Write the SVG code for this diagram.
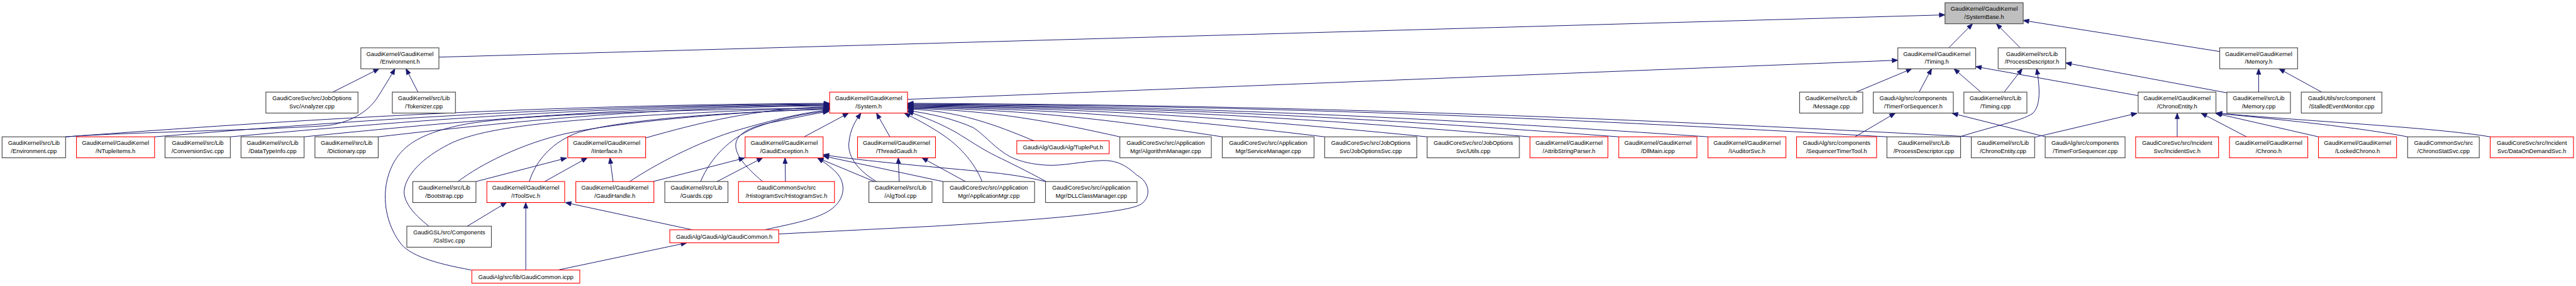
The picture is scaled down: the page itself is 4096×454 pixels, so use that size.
<svg xmlns="http://www.w3.org/2000/svg" width="4096" height="454" viewBox="0 0 4096 454">
<style>
.n rect{fill:#fff;stroke:#404040;stroke-width:1.1}
.n.red rect{stroke:#ff0000}
.n.root rect{fill:#bfbfbf}
text{font-family:"Liberation Sans",Arial,Helvetica,sans-serif;font-size:9.4px;text-anchor:middle;fill:#000}
.e path{fill:none;stroke:#191970;stroke-width:1;marker-end:url(#ah)}
</style>
<defs>
<marker id="ah" markerUnits="userSpaceOnUse" markerWidth="10" markerHeight="8" refX="9" refY="3.5" orient="auto" overflow="visible">
<path d="M0,0 L9,3.5 L0,7 Z" fill="#191970" stroke="#191970" stroke-width="0.8"/>
</marker>
</defs>
<rect x="0" y="0" width="4096" height="454" fill="#fff"/>
<g id="edges" class="e">
<path d="M697.9,90.7 L3092.7,23.6"/>
<path d="M3098.7,75.9 L3136.5,37.7"/>
<path d="M3212.2,75.9 L3174.3,37.7"/>
<path d="M3529.5,81.8 L3217,32.4"/>
<path d="M529.2,146.2 L602.9,109.1"/>
<path d="M664.6,146.2 L645.6,109.1"/>
<path d="M104.3,217.2 C200,210 400,207 515.9,199.7 C555,196 585,178 600,155 C612,136 622,120 627.9,109.1"/>
<path d="M3149.7,146.2 L3106.9,109.1"/>
<path d="M3186.8,146.2 L3215.5,109.1"/>
<path d="M3399.8,151.8 L3141.5,105.7"/>
<path d="M3541.3,147.4 L3284.6,99.9"/>
<path d="M3591.4,146.2 L3591.4,109.1"/>
<path d="M3691.6,146.2 L3623.7,109.1"/>
<path d="M2951.3,146.2 L3040.1,109.1"/>
<path d="M3051.6,146.2 L3071.4,109.1"/>
<path d="M1443,157.7 L3017.7,95.6"/>
<path d="M3116,217.2 C3170,200 3215,192 3232,180 C3245,168 3244,140 3238.4,109.1"/>
<path d="M2949.5,217.2 L3013.6,179.6"/>
<path d="M3252.6,217.2 L3104,179.8"/>
<path d="M3235.2,218 L3398,179.8"/>
<path d="M3461.9,217.2 L3461.9,179.6"/>
<path d="M3572.2,217.2 L3500,179.6"/>
<path d="M3686.5,217.2 L3523,180"/>
<path d="M3828.3,217.2 C3760,204 3650,192 3524,179.8"/>
<path d="M3959.6,217.2 C3870,202 3660,192 3524,179.4"/>
<path d="M1643.8,223.5 C1583.6,198.3 1523.3,175.5 1443,173"/>
<path d="M1780.6,217.2 C1679.3,194.6 1578,174.3 1443,172"/>
<path d="M1943.5,217.2 C1793.4,194.1 1643.2,173.3 1443,171"/>
<path d="M2106.3,217.2 C1907.3,193.6 1708.3,172.4 1443,170"/>
<path d="M2269.2,217.2 C2021.3,193.1 1773.5,171.4 1443,169"/>
<path d="M2432.8,217.2 C2135.9,192.6 1838.9,170.5 1443,168"/>
<path d="M2573.9,217.2 C2234.6,192.1 1895.4,169.5 1443,167"/>
<path d="M2715.8,217.2 C2334,191.6 1952.1,168.6 1443,166"/>
<path d="M3000.3,217.2 C2533.1,191.1 2065.9,167.6 1443,165"/>
<path d="M3134.5,217.2 C2627,190.6 2119.6,166.7 1443,164"/>
<path d="M104.3,217.2 C468.8,190.6 833.2,166.7 1319.2,164"/>
<path d="M245.8,217.2 C567.8,191.1 889.8,167.6 1319.2,165"/>
<path d="M366.3,217.2 C652.2,191.6 938,168.6 1319.2,166"/>
<path d="M483.5,217.2 C734.2,192.1 985,169.5 1319.2,167"/>
<path d="M601.4,217.2 C816.7,192.6 1032.1,170.5 1319.2,168"/>
<path d="M1026.6,218.9 C1114.4,194.2 1202.2,172 1319.2,169.5"/>
<path d="M728.2,288.2 C765,260 830,228 900,212 C980,195 1150,178 1319.2,172.5"/>
<path d="M841.6,288.2 C852,255 878,225 920,210 C990,190 1150,178 1319.2,173.5"/>
<path d="M1001.2,288.2 C1040,262 1110,225 1175,206 C1230,190 1280,178 1319.2,174.5"/>
<path d="M1114,288.2 C1130,250 1160,220 1200,203 C1240,188 1280,180 1318,176"/>
<path d="M1212.7,288.2 C1185,265 1168,245 1170,228 C1172,212 1195,200 1229,194 C1265,187 1295,180 1318,177"/>
<path d="M682,359.1 C655,338 640,318 643,300 C648,272 680,245 720,226 C780,200 900,185 1319.2,170.5"/>
<path d="M749.5,428.6 C690,418 650,405 636,385 C610,350 605,300 624,262 C640,230 670,210 746,196 C850,180 1100,174 1319.2,171.5"/>
<path d="M1278.7,217.2 L1349.3,179.6"/>
<path d="M1415,217.2 L1393.7,179.6"/>
<path d="M1393.7,288.2 C1360,268 1347,245 1350,225 C1352,205 1360,192 1369,179.6"/>
<path d="M1561.5,288.2 C1555,270 1535,238 1499,214 C1475,198 1455,188 1438,179.6"/>
<path d="M1663.4,288.2 C1630,270 1605,258 1584.6,248.1 C1560,236 1540,222 1520,210 C1495,196 1470,186 1443,177"/>
<path d="M1238.2,371.4 L1485.8,359 C1600,352 1790,340 1814,324.3 C1830,314 1830,290 1807.6,278 C1790,262 1775,254 1751.8,254.9 C1720,256 1690,264 1662.7,262.1 C1630,260 1610,252 1597,243.2 C1575,228 1565,214 1547.7,202.7 C1520,190 1480,180 1443,175.5"/>
<path d="M756.8,288.2 L901,250.8"/>
<path d="M866,288.2 L933.8,250.5"/>
<path d="M974.8,288.2 L969.9,250.5"/>
<path d="M1038.4,288.2 L1184,250.8"/>
<path d="M1140.1,288.2 L1212.7,250.5"/>
<path d="M1248.9,288.2 L1248.3,250.5"/>
<path d="M1390.4,288.2 L1300,250.6"/>
<path d="M1429.8,288.2 L1428.3,250.5"/>
<path d="M1499.4,288.2 L1308.9,247.6"/>
<path d="M1662.7,288.2 C1620,278 1590,275 1547.7,271 C1450,262 1360,254 1309,245.5"/>
<path d="M1535.2,288.2 L1466,250.5"/>
<path d="M742.9,359.1 L805.5,321.4"/>
<path d="M1101,364.8 L899,321.5"/>
<path d="M1216,364.8 C1260,355 1300,348 1322,332 C1345,315 1345,290 1330,274 C1320,264 1310,257 1300,251"/>
<path d="M887.3,428.6 L1092,385.5"/>
<path d="M836,428.6 L836,321.4"/>
</g>
<g id="systembase" class="n root"><rect x="3092.7" y="4.4" width="124.3" height="33.3"/><text x="3154.9" y="17.3">GaudiKernel/GaudiKernel</text><text x="3154.9" y="29.8">/SystemBase.h</text></g>
<g id="environment_h" class="n"><rect x="573.8" y="75.9" width="124.1" height="33.3"/><text x="635.9" y="88.8">GaudiKernel/GaudiKernel</text><text x="635.9" y="101.3">/Environment.h</text></g>
<g id="timing_h" class="n"><rect x="3017.7" y="75.9" width="123.8" height="33.3"/><text x="3079.6" y="88.8">GaudiKernel/GaudiKernel</text><text x="3079.6" y="101.3">/Timing.h</text></g>
<g id="processdescriptor_h" class="n"><rect x="3177.2" y="75.9" width="107.4" height="33.3"/><text x="3230.9" y="88.8">GaudiKernel/src/Lib</text><text x="3230.9" y="101.3">/ProcessDescriptor.h</text></g>
<g id="memory_h" class="n"><rect x="3529.5" y="75.9" width="123.8" height="33.3"/><text x="3591.4" y="88.8">GaudiKernel/GaudiKernel</text><text x="3591.4" y="101.3">/Memory.h</text></g>
<g id="analyzer_cpp" class="n"><rect x="422.8" y="146.2" width="146.4" height="33.3"/><text x="496" y="159.1">GaudiCoreSvc/src/JobOptions</text><text x="496" y="171.6">Svc/Analyzer.cpp</text></g>
<g id="tokenizer_cpp" class="n"><rect x="623.8" y="146.2" width="100.4" height="33.3"/><text x="674" y="159.1">GaudiKernel/src/Lib</text><text x="674" y="171.6">/Tokenizer.cpp</text></g>
<g id="system_h" class="n red"><rect x="1319.2" y="146.2" width="123.8" height="33.3"/><text x="1381.1" y="159.1">GaudiKernel/GaudiKernel</text><text x="1381.1" y="171.6">/System.h</text></g>
<g id="message_cpp" class="n"><rect x="2861.5" y="146.2" width="100.4" height="33.3"/><text x="2911.7" y="159.1">GaudiKernel/src/Lib</text><text x="2911.7" y="171.6">/Message.cpp</text></g>
<g id="timerforsequencer_h" class="n"><rect x="2978.6" y="146.2" width="127.3" height="33.3"/><text x="3042.3" y="159.1">GaudiAlg/src/components</text><text x="3042.3" y="171.6">/TimerForSequencer.h</text></g>
<g id="timing_cpp" class="n"><rect x="3122.7" y="146.2" width="100.2" height="33.3"/><text x="3172.8" y="159.1">GaudiKernel/src/Lib</text><text x="3172.8" y="171.6">/Timing.cpp</text></g>
<g id="chronoentity_h" class="n"><rect x="3399.8" y="146.2" width="123.7" height="33.3"/><text x="3461.7" y="159.1">GaudiKernel/GaudiKernel</text><text x="3461.7" y="171.6">/ChronoEntity.h</text></g>
<g id="memory_cpp" class="n"><rect x="3540.9" y="146.2" width="101" height="33.3"/><text x="3591.4" y="159.1">GaudiKernel/src/Lib</text><text x="3591.4" y="171.6">/Memory.cpp</text></g>
<g id="stalledeventmonitor_cpp" class="n"><rect x="3659.2" y="146.2" width="128.1" height="33.3"/><text x="3723.3" y="159.1">GaudiUtils/src/component</text><text x="3723.3" y="171.6">/StalledEventMonitor.cpp</text></g>
<g id="environment_cpp" class="n"><rect x="3.3" y="217.2" width="101" height="33.3"/><text x="53.8" y="230.1">GaudiKernel/src/Lib</text><text x="53.8" y="242.6">/Environment.cpp</text></g>
<g id="ntupleitems_h" class="n red"><rect x="121.6" y="217.2" width="124.2" height="33.3"/><text x="183.7" y="230.1">GaudiKernel/GaudiKernel</text><text x="183.7" y="242.6">/NTupleItems.h</text></g>
<g id="conversionsvc_cpp" class="n"><rect x="262.4" y="217.2" width="103.9" height="33.3"/><text x="314.4" y="230.1">GaudiKernel/src/Lib</text><text x="314.4" y="242.6">/ConversionSvc.cpp</text></g>
<g id="datatypeinfo_cpp" class="n"><rect x="383.2" y="217.2" width="100.3" height="33.3"/><text x="433.4" y="230.1">GaudiKernel/src/Lib</text><text x="433.4" y="242.6">/DataTypeInfo.cpp</text></g>
<g id="dictionary_cpp" class="n"><rect x="500.8" y="217.2" width="100.6" height="33.3"/><text x="551.1" y="230.1">GaudiKernel/src/Lib</text><text x="551.1" y="242.6">/Dictionary.cpp</text></g>
<g id="iinterface_h" class="n red"><rect x="902.8" y="217.2" width="123.8" height="33.3"/><text x="964.7" y="230.1">GaudiKernel/GaudiKernel</text><text x="964.7" y="242.6">/IInterface.h</text></g>
<g id="gaudiexception_h" class="n red"><rect x="1184.8" y="217.2" width="124" height="33.3"/><text x="1246.8" y="230.1">GaudiKernel/GaudiKernel</text><text x="1246.8" y="242.6">/GaudiException.h</text></g>
<g id="threadgaudi_h" class="n red"><rect x="1363.5" y="217.2" width="124" height="33.3"/><text x="1425.5" y="230.1">GaudiKernel/GaudiKernel</text><text x="1425.5" y="242.6">/ThreadGaudi.h</text></g>
<g id="tupleput_h" class="n red"><rect x="1616.8" y="223.5" width="146.8" height="20.6"/><text x="1690.2" y="237.3">GaudiAlg/GaudiAlg/TuplePut.h</text></g>
<g id="algorithmmanager_cpp" class="n"><rect x="1780.6" y="217.2" width="145.5" height="33.3"/><text x="1853.4" y="230.1">GaudiCoreSvc/src/Application</text><text x="1853.4" y="242.6">Mgr/AlgorithmManager.cpp</text></g>
<g id="servicemanager_cpp" class="n"><rect x="1943.5" y="217.2" width="145.9" height="33.3"/><text x="2016.5" y="230.1">GaudiCoreSvc/src/Application</text><text x="2016.5" y="242.6">Mgr/ServiceManager.cpp</text></g>
<g id="joboptionssvc_cpp" class="n"><rect x="2106.3" y="217.2" width="146.5" height="33.3"/><text x="2179.6" y="230.1">GaudiCoreSvc/src/JobOptions</text><text x="2179.6" y="242.6">Svc/JobOptionsSvc.cpp</text></g>
<g id="utils_cpp" class="n"><rect x="2269.2" y="217.2" width="146.7" height="33.3"/><text x="2342.6" y="230.1">GaudiCoreSvc/src/JobOptions</text><text x="2342.6" y="242.6">Svc/Utils.cpp</text></g>
<g id="attribstringparser_h" class="n red"><rect x="2432.8" y="217.2" width="123.9" height="33.3"/><text x="2494.8" y="230.1">GaudiKernel/GaudiKernel</text><text x="2494.8" y="242.6">/AttribStringParser.h</text></g>
<g id="dllmain_icpp" class="n red"><rect x="2573.9" y="217.2" width="124.3" height="33.3"/><text x="2636.1" y="230.1">GaudiKernel/GaudiKernel</text><text x="2636.1" y="242.6">/DllMain.icpp</text></g>
<g id="iauditorsvc_h" class="n red"><rect x="2715.8" y="217.2" width="123.9" height="33.3"/><text x="2777.8" y="230.1">GaudiKernel/GaudiKernel</text><text x="2777.8" y="242.6">/IAuditorSvc.h</text></g>
<g id="sequencertimertool_h" class="n red"><rect x="2856.6" y="217.2" width="127.3" height="33.3"/><text x="2920.3" y="230.1">GaudiAlg/src/components</text><text x="2920.3" y="242.6">/SequencerTimerTool.h</text></g>
<g id="processdescriptor_cpp" class="n"><rect x="3000.3" y="217.2" width="117.2" height="33.3"/><text x="3058.9" y="230.1">GaudiKernel/src/Lib</text><text x="3058.9" y="242.6">/ProcessDescriptor.cpp</text></g>
<g id="chronoentity_cpp" class="n"><rect x="3134.5" y="217.2" width="100.7" height="33.3"/><text x="3184.9" y="230.1">GaudiKernel/src/Lib</text><text x="3184.9" y="242.6">/ChronoEntity.cpp</text></g>
<g id="timerforsequencer_cpp" class="n"><rect x="3252" y="217.2" width="127" height="33.3"/><text x="3315.5" y="230.1">GaudiAlg/src/components</text><text x="3315.5" y="242.6">/TimerForSequencer.cpp</text></g>
<g id="incidentsvc_h" class="n red"><rect x="3395.8" y="217.2" width="131.9" height="33.3"/><text x="3461.8" y="230.1">GaudiCoreSvc/src/Incident</text><text x="3461.8" y="242.6">Svc/IncidentSvc.h</text></g>
<g id="chrono_h" class="n red"><rect x="3545" y="217.2" width="124.5" height="33.3"/><text x="3607.3" y="230.1">GaudiKernel/GaudiKernel</text><text x="3607.3" y="242.6">/Chrono.h</text></g>
<g id="lockedchrono_h" class="n red"><rect x="3686.5" y="217.2" width="124.2" height="33.3"/><text x="3748.6" y="230.1">GaudiKernel/GaudiKernel</text><text x="3748.6" y="242.6">/LockedChrono.h</text></g>
<g id="chronostatsvc_cpp" class="n"><rect x="3828.3" y="217.2" width="113.9" height="33.3"/><text x="3885.3" y="230.1">GaudiCommonSvc/src</text><text x="3885.3" y="242.6">/ChronoStatSvc.cpp</text></g>
<g id="dataondemandsvc_h" class="n red"><rect x="3959.6" y="217.2" width="132.4" height="33.3"/><text x="4025.8" y="230.1">GaudiCoreSvc/src/Incident</text><text x="4025.8" y="242.6">Svc/DataOnDemandSvc.h</text></g>
<g id="bootstrap_cpp" class="n"><rect x="656.4" y="288.2" width="100.4" height="33.3"/><text x="706.6" y="301.1">GaudiKernel/src/Lib</text><text x="706.6" y="313.6">/Bootstrap.cpp</text></g>
<g id="itoolsvc_h" class="n red"><rect x="774.1" y="288.2" width="123.8" height="33.3"/><text x="836" y="301.1">GaudiKernel/GaudiKernel</text><text x="836" y="313.6">/IToolSvc.h</text></g>
<g id="gaudihandle_h" class="n red"><rect x="915.6" y="288.2" width="124.1" height="33.3"/><text x="977.7" y="301.1">GaudiKernel/GaudiKernel</text><text x="977.7" y="313.6">/GaudiHandle.h</text></g>
<g id="guards_cpp" class="n"><rect x="1057.1" y="288.2" width="100.4" height="33.3"/><text x="1107.3" y="301.1">GaudiKernel/src/Lib</text><text x="1107.3" y="313.6">/Guards.cpp</text></g>
<g id="histogramsvc_h" class="n red"><rect x="1174.3" y="288.2" width="152.6" height="33.3"/><text x="1250.6" y="301.1">GaudiCommonSvc/src</text><text x="1250.6" y="313.6">/HistogramSvc/HistogramSvc.h</text></g>
<g id="algtool_cpp" class="n"><rect x="1381.6" y="288.2" width="100.3" height="33.3"/><text x="1431.8" y="301.1">GaudiKernel/src/Lib</text><text x="1431.8" y="313.6">/AlgTool.cpp</text></g>
<g id="applicationmgr_cpp" class="n"><rect x="1499.4" y="288.2" width="145.6" height="33.3"/><text x="1572.2" y="301.1">GaudiCoreSvc/src/Application</text><text x="1572.2" y="313.6">Mgr/ApplicationMgr.cpp</text></g>
<g id="dllclassmanager_cpp" class="n"><rect x="1662.5" y="288.2" width="145.4" height="33.3"/><text x="1735.2" y="301.1">GaudiCoreSvc/src/Application</text><text x="1735.2" y="313.6">Mgr/DLLClassManager.cpp</text></g>
<g id="gslsvc_cpp" class="n"><rect x="646.9" y="359.1" width="134.5" height="33.3"/><text x="714.2" y="372">GaudiGSL/src/Components</text><text x="714.2" y="384.5">/GslSvc.cpp</text></g>
<g id="gaudicommon_h" class="n red"><rect x="1065" y="364.8" width="173.2" height="20.6"/><text x="1151.6" y="378.6">GaudiAlg/GaudiAlg/GaudiCommon.h</text></g>
<g id="gaudicommon_icpp" class="n red"><rect x="750.2" y="428.6" width="171.7" height="20.9"/><text x="836.1" y="442.5">GaudiAlg/src/lib/GaudiCommon.icpp</text></g>
</svg>
